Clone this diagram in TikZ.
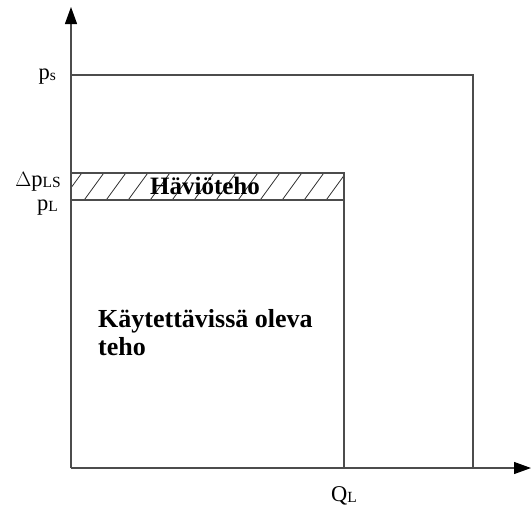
\documentclass[tikz,border=0pt]{standalone}
\usepackage{fontspec}
\setmainfont{Liberation Serif}
\usetikzlibrary{arrows.meta}
\newcommand{\lsub}[1]{\raisebox{-0.08em}{\fontsize{15.5}{16}\selectfont #1}}
\begin{document}
\begin{tikzpicture}[x=1pt,y=-1pt,
  axis/.style={line width=1.2pt,draw=black!70,-{Triangle[length=17pt,width=12pt,color=black,fill=black]}},
  box/.style={line width=1.1pt,draw=black!70},
  lbl/.style={font=\fontsize{22.5}{24}\selectfont,inner sep=0pt},
  blbl/.style={font=\fontsize{25}{28}\selectfont\bfseries,inner sep=0pt,align=left}]
\useasboundingbox (0,0) rectangle (532,509);
\coordinate (O) at (71,468);
\coordinate (ytip) at (71,7);
\coordinate (xtip) at (531,468);
% hatching
\begin{scope}
\clip (71,173) rectangle (344,200);
\foreach \i in {0,...,14} {
  \draw[line width=0.8pt,black!80] (60+22*\i,203) -- (84+22*\i,170);
}
\end{scope}
\draw[box] (71,75) -- (473,75) -- (473,468);
\draw[box] (71,173) -- (344,173) -- (344,468);
\draw[box] (71,200) -- (344,200);
\draw[axis] (O) -- (ytip);
\draw[axis] (O) -- (xtip);
\node[lbl,anchor=base east] (ps) at (56,79) {p\lsub{s}};
\node[lbl,anchor=base east] (dpls) at (61,186) {$\Delta$p\lsub{LS}};
\node[lbl,anchor=base east] (pl) at (58,210) {p\lsub{L}};
\node[lbl,anchor=base] (ql) at (344,501) {Q\lsub{L}};
\node[blbl,anchor=base] (hav) at (205,194) {Häviöteho};
\node[blbl,font=\fontsize{26}{28}\selectfont\bfseries,anchor=base west] (kay) at (98,355) {Käytettävissä oleva\\teho};
\end{tikzpicture}
\end{document}
